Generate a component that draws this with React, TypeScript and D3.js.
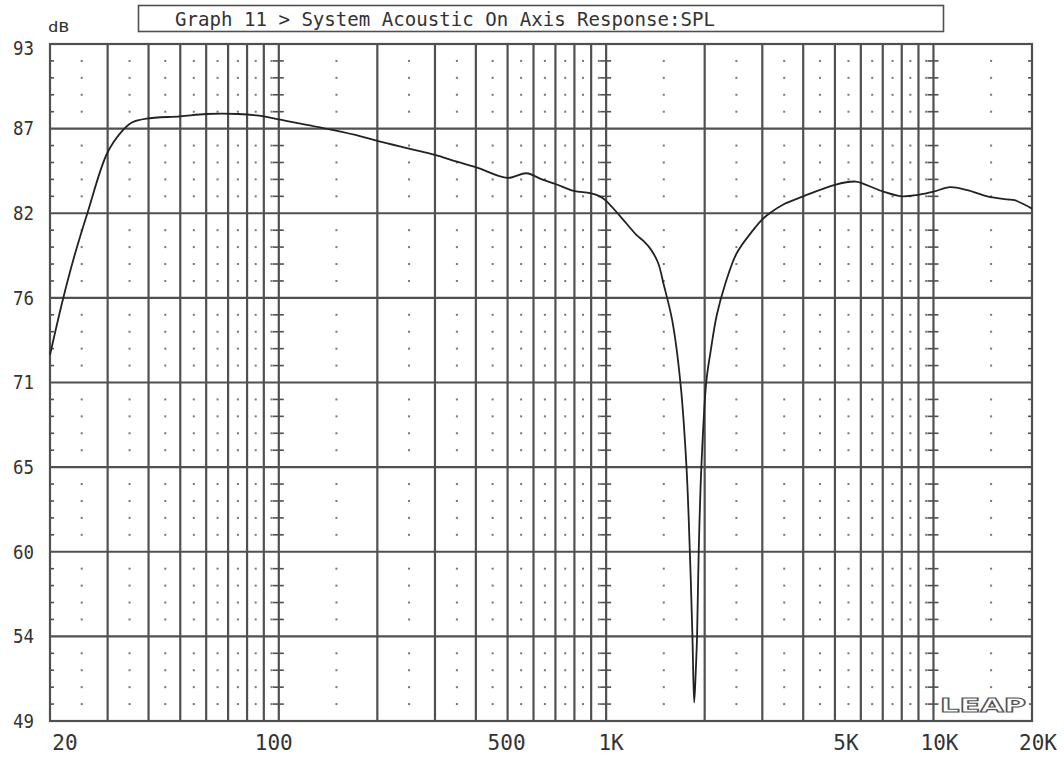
import React from "react";
import * as d3 from "d3";

const freqHz = [
  20, 21.9, 23.8, 26.1, 29.9, 33.4, 35.6, 39.4, 50, 60,
  75, 90, 100, 147, 178, 200, 250, 300, 350, 400, 500,
  571, 636, 700, 797, 894, 966, 1000, 1105, 1237, 1300,
  1364, 1440, 1502, 1593, 1688, 1760, 1802, 1835, 1858, 1880,
  1896, 1918, 1954, 2022, 2081, 2179, 2311, 2505, 2812, 3000,
  3160, 3500, 4000, 5000, 5792, 6227, 7034, 8000, 9000, 10000,
  11250, 12700, 14600, 16800, 17700, 20000,
];
const splDb = [
  72.8, 76.4, 79.3, 82.1, 85.9, 87.4, 87.9, 88.15, 88.3, 88.45,
  88.45, 88.3, 88.1, 87.4, 87.0, 86.7, 86.2, 85.8, 85.35, 85.0, 84.3,
  84.6, 84.2, 83.9, 83.45, 83.3, 83.05, 82.8, 81.8, 80.6, 80.2,
  79.7, 78.8, 77.3, 75.0, 70.9, 65.5, 60.0, 54.5, 50.2, 52.4,
  54.5, 60.0, 65.5, 71.0, 72.9, 75.4, 77.4, 79.4, 80.9, 81.6,
  82.0, 82.6, 83.1, 83.85, 84.06, 83.85, 83.4, 83.1, 83.2, 83.4,
  83.7, 83.5, 83.1, 82.9, 82.85, 82.3,
];
const yGridDb = [49, 54.5, 60, 65.5, 71, 76.5, 82, 87.5, 93];
const yTickLabels = ["49", "54", "60", "65", "71", "76", "82", "87", "93"];
const xTickFreqs = [20, 100, 500, 1000, 5000, 10000, 20000];
const xTickLabels = ["20", "100", "500", "1K", "5K", "10K", "20K"];
const titleText = "Graph 11 > System Acoustic On Axis Response:SPL";
const yUnit = "dB";
const logoText = "LEAP";

const W = 1064;
const H = 758;
const PL = 50, PR = 1032, PT = 44, PB = 721;
const xLabelDx = [15, -5, -1, 5, 11, 6, 6];
const GRID = "#505050";
const FONT = "'DejaVu Sans Mono', monospace";

export default function App() {
  const x = d3.scaleLog().domain([20, 20000]).range([PL, PR]);
  const y = d3.scaleLinear().domain([49, 93]).range([PB, PT]);

  const gridFreqs: number[] = [];
  const dotFreqs: number[] = [];
  for (const d of [10, 100, 1000, 10000]) {
    for (let m = 1; m <= 9; m++) {
      const f = m * d;
      if (f > 20 && f < 20000) gridFreqs.push(f);
      const g = (m + 0.5) * d;
      if (g > 20 && g < 20000) dotFreqs.push(g);
    }
  }
  const dotDb: number[] = [];
  for (let k = 0; k < 8; k++) for (let j = 1; j <= 4; j++) dotDb.push(49 + 5.5 * k + 1.1 * j);
  const decadeFreqs = [100, 1000, 10000];

  const line = d3
    .line<number>()
    .x((_, i) => x(freqHz[i]))
    .y((v) => y(v))
    .curve(d3.curveCatmullRom.alpha(0.5));

  return (
    <div style={{ position: "absolute", left: 0, top: 0 }}>
      <svg width={W} height={H} style={{ display: "block", background: "#fff" }}>
        {/* title box */}
        <rect x={138.5} y={5.5} width={805} height={26} fill="none" stroke={GRID} strokeWidth={1.6} />
        <text x={175} y={26} fontFamily={FONT} fontSize={20} fill="#333" textLength={540} lengthAdjust="spacingAndGlyphs">
          {titleText}
        </text>
        <text x={48} y={32} fontFamily={FONT} fontSize={14} fill="#333" textLength={21} lengthAdjust="spacingAndGlyphs">
          {yUnit}
        </text>

        {/* dots */}
        <g fill="#777">
          {dotFreqs.map((f) =>
            dotDb.map((v) => (
              <rect key={f + "-" + v} x={x(f) - 1} y={y(v) - 1} width={2} height={2} />
            ))
          )}
        </g>
        {/* small ticks on decade lines and edges */}
        <g stroke={GRID} strokeWidth={1.6}>
          {dotDb.map((v) => (
            <g key={"t" + v}>
              <line x1={PL} x2={PL + 4} y1={y(v)} y2={y(v)} />
              <line x1={PR - 4} x2={PR} y1={y(v)} y2={y(v)} />
              {decadeFreqs.map((f) => (
                <line key={f} x1={x(f) - 6} x2={x(f) + 5} y1={y(v)} y2={y(v)} />
              ))}
            </g>
          ))}
        </g>
        {/* vertical grid */}
        <g stroke={GRID} strokeWidth={2.2}>
          {gridFreqs.map((f) => (
            <line key={f} x1={x(f)} x2={x(f)} y1={PT} y2={PB} />
          ))}
        </g>
        {/* horizontal grid */}
        <g stroke={GRID} strokeWidth={2.2}>
          {yGridDb.map((v) => (
            <line key={v} x1={PL} x2={PR} y1={y(v)} y2={y(v)} />
          ))}
        </g>
        <rect x={PL} y={PT} width={PR - PL} height={PB - PT} fill="none" stroke={GRID} strokeWidth={2.2} />

        {/* y labels */}
        {yGridDb.map((v, i) => (
          <text
            key={"yl" + v}
            x={13}
            y={y(v) + (i === yGridDb.length - 1 ? 4 : 0)}
            dy="0.36em"
            fontFamily={FONT}
            fontSize={19}
            fill="#333"
            textLength={21}
            lengthAdjust="spacingAndGlyphs"
          >
            {yTickLabels[i]}
          </text>
        ))}
        {/* x labels */}
        {xTickFreqs.map((f, i) => (
          <text
            key={"xl" + f}
            x={x(f) + xLabelDx[i]}
            y={750}
            textAnchor="middle"
            fontFamily={FONT}
            fontSize={21}
            fill="#333"
          >
            {xTickLabels[i]}
          </text>
        ))}

        {/* logo */}
        <rect x={939} y={694} width={90} height={21} fill="#fff" />
        <text
          x={940}
          y={712}
          fontFamily="'DejaVu Sans', sans-serif"
          fontWeight="bold"
          fontSize={19}
          fill="#fff"
          stroke="#555"
          strokeWidth={1.1}
          textLength={86}
          lengthAdjust="spacingAndGlyphs"
        >
          {logoText}
        </text>

        {/* response curve */}
        <path d={line(splDb) || ""} fill="none" stroke="#222" strokeWidth={1.8} strokeLinejoin="round" />
      </svg>
    </div>
  );
}
